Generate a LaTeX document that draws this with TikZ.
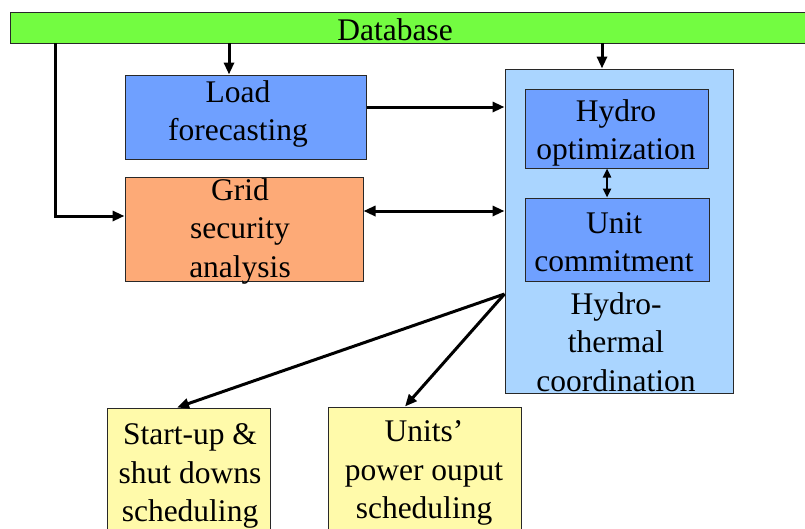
\documentclass[tikz,border=0pt]{standalone}
\usepackage{fontspec}
\setmainfont{Liberation Serif}
\usetikzlibrary{arrows.meta}
\definecolor{dbgreen}{RGB}{115,252,65}
\definecolor{midblue}{RGB}{111,160,255}
\definecolor{paleblue}{RGB}{170,213,255}
\definecolor{orangebox}{RGB}{253,170,119}
\definecolor{paleyellow}{RGB}{255,250,170}
\definecolor{edge}{RGB}{40,40,40}
\tikzset{
  box/.style={draw=edge, line width=1pt, rectangle, inner sep=0pt},
  lbl/.style={align=center, font=\fontsize{31.5}{38.5}\selectfont, inner sep=0pt},
  arr/.style={line width=3pt, -{Triangle[length=12pt,width=10pt]}},
  darr/.style={line width=3pt, {Triangle[length=12pt,width=10pt]}-{Triangle[length=12pt,width=10pt]}},
  sarr/.style={line width=2.4pt, {Triangle[length=9pt,width=8pt]}-{Triangle[length=9pt,width=8pt]}}
}
\begin{document}
\begin{tikzpicture}[x=1pt,y=-1pt]
\useasboundingbox (0,0) rectangle (805,528);
\clip (0,0) rectangle (805,528);
% boxes
\node[box, fill=dbgreen, minimum width=800pt, minimum height=31pt] (db) at (410,27.5) {};
\node[box, fill=midblue, minimum width=241pt, minimum height=84pt] (load) at (245.5,117) {};
\node[box, fill=orangebox, minimum width=238pt, minimum height=104pt] (grid) at (244,229) {};
\node[box, fill=paleblue, minimum width=228pt, minimum height=324pt] (ht) at (619,231) {};
\node[box, fill=midblue, minimum width=183pt, minimum height=79pt] (hopt) at (616.5,128.5) {};
\node[box, fill=midblue, minimum width=184pt, minimum height=83pt] (uc) at (617,239.5) {};
\node[box, fill=paleyellow, minimum width=163pt, minimum height=132pt] (su) at (188.5,474) {};
\node[box, fill=paleyellow, minimum width=193pt, minimum height=133pt] (up) at (424.5,473.5) {};
% texts
\node[lbl] (dbt) at (395,30) {Database};
\node[lbl] (loadt) at (238,114) {Load\\forecasting};
\node[lbl] (gridt) at (240,231) {Grid\\security\\analysis};
\node[lbl] (hoptt) at (616,133) {Hydro\\optimization};
\node[lbl] (uct) at (614,242) {Unit\\commitment};
\node[lbl] (htt) at (616,342) {Hydro-\\thermal\\coordination};
\node[lbl] (sut) at (190,476) {Start-up \&\\shut downs\\scheduling};
\node[lbl] (upt) at (424,473) {Units’\\power ouput\\scheduling};
% connectors
\coordinate (a1) at (229,43);
\coordinate (a2) at (602,43);
\coordinate (a3) at (55,43);
\draw[arr] (a1) -- (a1 |- load.north);
\draw[arr] (a2) -- (a2 |- ht.north);
\draw[arr] (a3) |- ([yshift=13pt]grid.west);
\draw[arr] ([yshift=10pt]load.east) -- ([yshift=10pt]load.east -| ht.west);
\draw[darr] ([yshift=18pt]grid.east) -- ([yshift=18pt]grid.east -| ht.west);
\draw[sarr] ([xshift=-9.5pt]hopt.south) -- ([xshift=-9.5pt]hopt.south |- uc.north);
\coordinate (src) at ([yshift=-63pt]ht.west);
\draw[arr] (src) -- ([xshift=-11.5pt]su.north);
\draw[arr] (src) -- ([xshift=-19.5pt]up.north);
\end{tikzpicture}
\end{document}
